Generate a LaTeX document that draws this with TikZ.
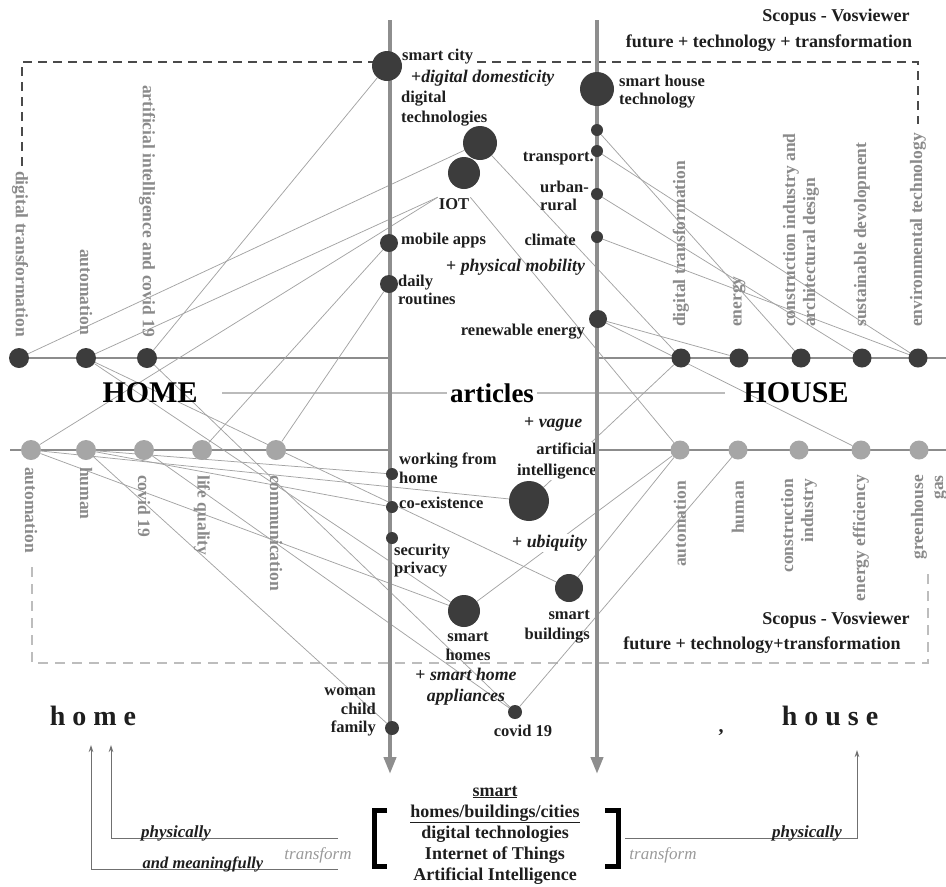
\documentclass[tikz,border=0pt]{standalone}
\usepackage{fontspec}
\setmainfont{Liberation Serif}
\usetikzlibrary{arrows.meta}
\definecolor{axisgray}{HTML}{8E8E8E}
\definecolor{nodedark}{HTML}{3C3C3C}
\definecolor{nodelight}{HTML}{A6A6A6}
\definecolor{linegray}{HTML}{A3A3A3}
\definecolor{hlinegray}{HTML}{8C8C8C}
\definecolor{midline}{HTML}{BBBBBB}
\definecolor{textdark}{HTML}{1E1E1E}
\definecolor{labelgray}{HTML}{8A8A8A}
\definecolor{dashdark}{HTML}{4A4A4A}
\definecolor{dashlight}{HTML}{BDBDBD}
\definecolor{arrowgray}{HTML}{707070}
\definecolor{transgray}{HTML}{9A9A9A}
\pgfdeclarelayer{bg}
\pgfdeclarelayer{mid}
\pgfsetlayers{bg,mid,main}
\begin{document}
\begin{tikzpicture}[x=1pt,y=-1pt,
  conn/.style={draw=linegray, line width=0.75pt},
  dk/.style={circle, fill=nodedark, inner sep=0pt, minimum size=#1},
  lt/.style={circle, fill=nodelight, inner sep=0pt, minimum size=#1},
  art/.style={font=\fontsize{16.5}{19}\selectfont\bfseries, text=textdark, inner sep=1pt},
  artit/.style={font=\fontsize{17.8}{20}\selectfont\bfseries, text=textdark, inner sep=1pt},
  rotl/.style={font=\fontsize{17.5}{20}\selectfont\bfseries, text=labelgray, inner sep=1pt},
  bigword/.style={font=\fontsize{30}{32}\selectfont\bfseries, text=black, inner sep=2pt},
  scop/.style={font=\fontsize{18}{20}\selectfont\bfseries, text=textdark, inner sep=1pt},
  axis/.style={draw=axisgray, line width=4pt, -{Triangle[length=17pt,width=12pt]}},
  hline/.style={draw=hlinegray, line width=1.3pt},
  botarrow/.style={draw=arrowgray, line width=1pt, -{Stealth[length=7pt,width=4.5pt]}},
  whitebg/.style={fill=white}
]
\useasboundingbox (0,0) rectangle (946,887);

% ---------- circle nodes ----------
\node[dk=20pt] (ul1) at (19,358) {};
\node[dk=20pt] (ul2) at (86,358) {};
\node[dk=20pt] (ul3) at (147,358) {};
\node[dk=19pt] (ur1) at (681,358) {};
\node[dk=19pt] (ur2) at (739,358) {};
\node[dk=19pt] (ur3) at (801,358) {};
\node[dk=19pt] (ur4) at (862,358) {};
\node[dk=19pt] (ur5) at (918,358) {};
\node[lt=20pt] (ll1) at (31,450) {};
\node[lt=20pt] (ll2) at (86,450) {};
\node[lt=20pt] (ll3) at (144,450) {};
\node[lt=20pt] (ll4) at (202,450) {};
\node[lt=20pt] (ll5) at (276,450) {};
\node[lt=19pt] (lr1) at (680,450) {};
\node[lt=19pt] (lr2) at (738,450) {};
\node[lt=19pt] (lr3) at (799,450) {};
\node[lt=19pt] (lr4) at (861,450) {};
\node[lt=19pt] (lr5) at (919,450) {};
\node[dk=30pt] (sc) at (387,66) {};
\node[dk=34pt] (sh) at (597,89) {};
\node[dk=34pt] (dt) at (480,143) {};
\node[dk=32pt] (iot) at (464,173) {};
\node[dk=18pt] (ma) at (389,243) {};
\node[dk=18pt] (dr) at (389,284) {};
\node[dk=12pt] (n1) at (597,130) {};
\node[dk=12pt] (tr) at (597,151) {};
\node[dk=12pt] (urb) at (597,194) {};
\node[dk=12pt] (clm) at (597,237) {};
\node[dk=18pt] (re) at (598,319) {};
\node[dk=12pt] (wfh) at (392,474) {};
\node[dk=12pt] (ce) at (392,507) {};
\node[dk=12pt] (sp) at (392,538) {};
\node[dk=40pt] (ai) at (529,501) {};
\node[dk=28pt] (sb) at (569,588) {};
\node[dk=32pt] (shm) at (464,611) {};
\node[dk=14pt] (cv) at (515,712) {};
\node[dk=14pt] (wcf) at (392,728) {};

% ---------- labels ----------
\begin{pgfonlayer}{mid}
% upper left rotated
\node[rotl, rotate=-90, anchor=east] (t-ul1) at (20,338) {digital transformation};
\node[rotl, rotate=-90, anchor=east] (t-ul2) at (86,336) {automation};
\node[rotl, rotate=-90, anchor=east] (t-ul3) at (147,338) {artificial intelligence and covid 19};
% upper right rotated
\node[rotl, rotate=90, anchor=west] (t-ur1) at (681,328) {digital transformation};
\node[rotl, rotate=90, anchor=west] (t-ur2) at (739,328) {energy};
\node[rotl, rotate=90, anchor=west, align=left] (t-ur3) at (801,328) {construction industry and\\architectural design};
\node[rotl, rotate=90, anchor=west] (t-ur4) at (862,328) {sustainable devolopment};
\node[rotl, rotate=90, anchor=west] (t-ur5) at (918,328) {environmental technology};
% lower left rotated
\node[rotl, rotate=-90, anchor=west] (t-ll1) at (31,466) {automation};
\node[rotl, rotate=-90, anchor=west] (t-ll2) at (86,466) {human};
\node[rotl, rotate=-90, anchor=west] (t-ll3) at (144,474) {covid 19};
\node[rotl, rotate=-90, anchor=west] (t-ll4) at (202,474) {life quality};
\node[rotl, rotate=-90, anchor=west] (t-ll5) at (276,474) {communication};
% lower right rotated
\node[rotl, rotate=90, anchor=east] (t-lr1) at (680,480) {automation};
\node[rotl, rotate=90, anchor=east] (t-lr2) at (738,480) {human};
\node[rotl, rotate=90, anchor=east, align=right] (t-lr3) at (799,478) {construction\\industry};
\node[rotl, rotate=90, anchor=east] (t-lr4) at (861,474) {energy efficiency};
\node[rotl, rotate=90, anchor=east, align=right] (t-lr5) at (929,474) {greenhouse\\gas};

% article labels
\node[art, anchor=west] (t-sc) at (401,57) {smart city};
\node[artit, anchor=west] (t-dd) at (410,78) {+\textit{digital domesticity}};
\node[art, anchor=west, align=left, font=\fontsize{16.5}{20}\selectfont\bfseries] (t-dt) at (400,109) {digital\\technologies};
\node[art, anchor=west, align=left, font=\fontsize{16.5}{18}\selectfont\bfseries] (t-sh) at (618,92) {smart house\\technology};
\node[art, anchor=east] (t-tr) at (595,159) {transport.};
\node[art, anchor=west, align=left, font=\fontsize{16.5}{17.5}\selectfont\bfseries] (t-ur) at (539,196) {urban-\\rural};
\node[art] (iotl) at (454,204) {IOT};
\node[art, anchor=west] (t-ma) at (400,241) {mobile apps};
\node[art, anchor=east] (t-cl) at (577,240) {climate};
\node[artit, anchor=west] (t-pm) at (445,267) {+ \textit{physical mobility}};
\node[art, anchor=west, align=left, font=\fontsize{16.5}{17.5}\selectfont\bfseries] (t-dr) at (397,290) {daily\\routines};
\node[art, anchor=east] (t-re) at (586,332) {renewable energy};
\node[bigword] (t-home) at (150,393) {HOME};
\node[bigword] (t-house) at (796,393) {HOUSE};
\node[bigword, whitebg, font=\fontsize{27}{29}\selectfont\bfseries, inner sep=3pt] (t-art) at (492,393) {articles};
\node[artit, anchor=west, whitebg] (t-vg) at (523,424) {+ \textit{vague}};
\node[art, anchor=east, align=right, whitebg, font=\fontsize{16.5}{21}\selectfont\bfseries] (t-ai) at (598,461) {artificial\\intelligence};
\node[art, anchor=west, align=left] (t-wfh) at (398,468) {working from\\home};
\node[art, anchor=west] (t-ce) at (398,503) {co-existence};
\node[art, anchor=west, align=left, font=\fontsize{16.5}{18}\selectfont\bfseries] (t-sp) at (393,561) {security\\privacy};
\node[artit, anchor=west, whitebg] (t-ub) at (511,543) {+ \textit{ubiquity}};
\node[art, align=center, font=\fontsize{16.5}{19}\selectfont\bfseries] (t-shm) at (468,646) {smart\\homes};
\node[art, anchor=east, align=right, font=\fontsize{16.5}{20}\selectfont\bfseries] (t-sb) at (591,627) {smart\\buildings};
\node[artit, align=center, font=\fontsize{17.8}{21}\selectfont\bfseries] (t-sha) at (466,687) {+ \textit{smart home}\\\textit{appliances}};
\node[art, anchor=east, align=right, font=\fontsize{16.5}{18.5}\selectfont\bfseries] (t-wcf) at (377,712) {woman\\child\\family};
\node[art] (t-cv) at (523,731) {covid 19};
% scopus
\node[scop] (t-s1) at (836,17) {Scopus - Vosviewer};
\node[scop] (t-f1) at (769,43) {future + technology + transformation};
\node[scop] (t-s2) at (836,620) {Scopus - Vosviewer};
\node[scop] (t-f2) at (762,645) {future + technology+transformation};

% axes
\draw[axis] (390,20) -- (390,774);
\draw[axis] (597,20) -- (597,774);
\end{pgfonlayer}

% ---------- background: boxes, lines, connectors ----------
\begin{pgfonlayer}{bg}
\draw[dashdark, line width=1.3pt, dash pattern=on 9pt off 6pt] (22,166) -- (22,62) -- (375,62);
\draw[dashdark, line width=1.3pt, dash pattern=on 9pt off 6pt] (477,62) -- (918,62) -- (918,124);
\draw[dashlight, line width=1.8pt, dash pattern=on 10pt off 7pt] (32,567) -- (32,663) -- (928,663) -- (928,573);
\draw[hline] (10,358) -- (390,358);
\draw[hline] (597,358) -- (946,358);
\draw[hline] (10,450) -- (390,450);
\draw[hline] (597,450) -- (946,450);
\draw[midline, line width=1.2pt] (222,393) -- (725,393);

\draw[conn] (ul1) -- (dt);
\draw[conn] (ul2) -- (iotl.north west);
\draw[conn] (ul3) -- (sc);
\draw[conn] (ul2) -- (sb);
\draw[conn] (ul2) -- (shm);
\draw[conn] (ul3) -- (cv);
\draw[conn] (ll1) -- (iotl.north west);
\draw[conn] (ll1) -- (ai);
\draw[conn] (ll1) -- (shm);
\draw[conn] (ll2) -- (wfh);
\draw[conn] (ll2) -- (ce);
\draw[conn] (ll2) -- (wcf);
\draw[conn] (ll3) -- (cv);
\draw[conn] (ll4) -- (ma);
\draw[conn] (ll5) -- (dr);
\draw[conn] (dt) -- (ur1);
\draw[conn] (iotl.north east) -- (lr1);
\draw[conn] (n1) -- (ur3);
\draw[conn] (tr) -- (ur5);
\draw[conn] (urb) -- (ur4);
\draw[conn] (clm) -- (ur5);
\draw[conn] (re) -- (ur2);
\draw[conn] (re) -- (lr4);
\draw[conn] (ai) -- (ur1);
\draw[conn] (shm) -- (lr1);
\draw[conn] (sb) -- (lr1);
\draw[conn] (lr2) -- (cv);
\end{pgfonlayer}

% ---------- bottom part ----------
\node[font=\fontsize{28}{30}\selectfont\bfseries, text=textdark] (t-h1) at (93,716) {h o m e};
\node[font=\fontsize{28}{30}\selectfont\bfseries, text=textdark] (t-h2) at (830,716) {h o u s e};
\node[font=\fontsize{20}{22}\selectfont\bfseries, text=textdark] (t-comma) at (721,733) {,};

\node[font=\fontsize{18}{21}\selectfont\bfseries, text=textdark, align=center] (t-block) at (495,835)
  {\underline{smart}\\\underline{homes/buildings/cities}\\digital technologies\\Internet of Things\\Artificial Intelligence};
\draw[black, line width=5pt] (387,810) -- (374,810) -- (374,866) -- (387,866);
\draw[black, line width=5pt] (605,810) -- (618,810) -- (618,866) -- (605,866);

\coordinate (bl1) at (338,838);
\coordinate (bl2) at (338,869);
\coordinate (br1) at (625,838);
\coordinate (home1) at (111,745);
\coordinate (home2) at (91,745);
\coordinate (house1) at (857,750);
\draw[botarrow] (bl1) -- (home1 |- bl1) -- (home1);
\draw[botarrow] (bl2) -- (home2 |- bl2) -- (home2);
\draw[botarrow] (br1) -- (house1 |- br1) -- (house1);
\node[font=\fontsize{17}{18}\selectfont\bfseries\itshape, text=textdark, anchor=base, inner sep=1pt] (t-ph1) at (176,837) {physically};
\node[font=\fontsize{16.5}{18}\selectfont\bfseries\itshape, text=textdark, anchor=base, inner sep=1pt] (t-mean) at (203,868) {and meaningfully};
\node[font=\fontsize{17}{18}\selectfont\bfseries\itshape, text=textdark, anchor=base, inner sep=1pt] (t-ph2) at (807,837) {physically};
\node[font=\fontsize{17}{19}\selectfont\itshape, text=transgray] (t-tf1) at (318,855) {transform};
\node[font=\fontsize{17}{19}\selectfont\itshape, text=transgray] (t-tf2) at (663,855) {transform};
\end{tikzpicture}
\end{document}
